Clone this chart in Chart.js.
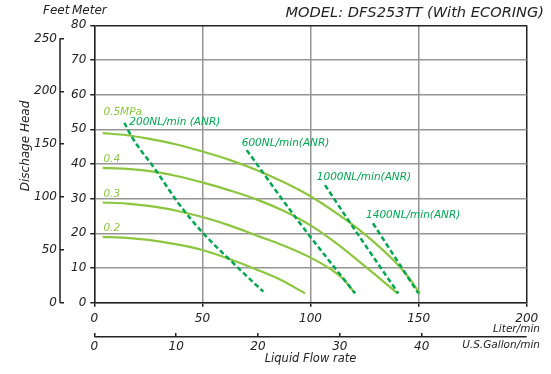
<!DOCTYPE html>
<html lang="en">
<head>
<meta charset="utf-8" />
<title>DFS253TT Performance Curve</title>
<script src="https://cdn.jsdelivr.net/npm/chart.js@4.4.1/dist/chart.umd.min.js"></script>
<style>
    html, body { margin: 0; padding: 0; background: #fff; }
</style>
</head>
<body>
<canvas id="pumpChart" width="551" height="374"></canvas>
<script>
    // Discharge head (m) vs liquid flow (L/min) at each air pressure
    const flow05 = [3.9, 15, 25, 37.5, 50, 62.5, 75, 87.5, 100, 112.5, 125, 137.5, 145, 150.6];
    const head05 = [48.9, 48.3, 47.3, 45.7, 43.6, 41.2, 38.3, 34.8, 30.7, 25.6, 19.8, 12.8, 7.6, 2.7];
    const flow04 = [3.9, 15, 25, 37.5, 50, 62.5, 75, 87.5, 100, 112.5, 125, 140.2];
    const head04 = [38.9, 38.6, 38.0, 36.6, 34.7, 32.4, 29.8, 26.5, 22.3, 16.9, 10.6, 2.7];
    const flow03 = [3.9, 15, 25, 37.5, 50, 62.5, 75, 87.5, 100, 110, 115, 120.6];
    const head03 = [28.9, 28.6, 27.9, 26.6, 24.7, 22.3, 19.4, 16.5, 13.0, 9.4, 6.9, 2.7];
    const flow02 = [3.9, 15, 25, 37.5, 50, 62.5, 75, 85.9, 97.5];
    const head02 = [19.0, 18.7, 18.1, 16.9, 15.2, 12.6, 9.6, 6.7, 2.7];

    // Air consumption lines
    const flowA200 = [13.9, 17.3, 28.9, 38.9, 50.4, 62.8, 76.6, 78.2];
    const headA200 = [51.9, 47.9, 37.8, 28.7, 20.0, 12.3, 4.1, 3.2];
    const flowA600 = [70.5, 94.4, 120.6];
    const headA600 = [44.0, 23.5, 2.7];
    const flowA1000 = [106.7, 121.4, 140.6];
    const headA1000 = [33.9, 20.2, 2.7];
    const flowA1400 = [128.9, 139.9, 149.9];
    const headA1400 = [22.9, 12.3, 2.7];

    const pressureLabels = ['0.5MPa', '0.4', '0.3', '0.2'];
    const airLabels = ['200NL/min (ANR)', '600NL/min(ANR)', '1000NL/min(ANR)', '1400NL/min(ANR)'];

    const literTicks = [0, 50, 100, 150, 200];
    const gallonTicks = [0, 10, 20, 30, 40];
    const meterTicks = [0, 10, 20, 30, 40, 50, 60, 70, 80];
    const feetTicks = [0, 50, 100, 150, 200, 250];

    const FT_PER_M = 3.28084;
    const L_PER_GAL = 3.78541;
    const INK = '#222';
    const GRID = '#959595';
    const CURVE = '#8cc63f';
    const AIR = '#00a651';
    const FONT = '"DejaVu Sans", sans-serif';

    const pts = (xs, ys) => xs.map((x, i) => ({ x: x, y: ys[i] }));
    const fixTicks = list => scale => { scale.ticks = list.map(v => ({ value: v })); };

    function airSet(xs, ys) {
        return {
            data: pts(xs, ys),
            borderColor: AIR,
            borderWidth: 2.5,
            borderDash: [5, 3],
            pointRadius: 0,
            cubicInterpolationMode: 'monotone'
        };
    }

    function curveSet(xs, ys) {
        return {
            data: pts(xs, ys),
            borderColor: CURVE,
            borderWidth: 2.2,
            pointRadius: 0,
            cubicInterpolationMode: 'monotone'
        };
    }

    // extra axis spines and free text
    const annotate = {
        id: 'annotate',
        afterDraw(chart) {
            const { ctx, chartArea, scales } = chart;
            const x = scales.x, y = scales.y, ft = scales.yFeet, gal = scales.xGal;

            ctx.save();
            ctx.strokeStyle = INK;
            ctx.lineWidth = 1.5;
            ctx.beginPath();
            const fx = ft.right - 4;
            ctx.moveTo(fx, ft.getPixelForValue(feetTicks[feetTicks.length - 1]));
            ctx.lineTo(fx, ft.getPixelForValue(0));
            const gy = gal.top + 4;
            ctx.moveTo(chartArea.left, gy);
            ctx.lineTo(chartArea.right, gy);
            ctx.stroke();

            function text(str, px, py, size, color, align) {
                ctx.font = 'italic ' + size + 'px ' + FONT;
                ctx.fillStyle = color;
                ctx.textAlign = align || 'left';
                ctx.textBaseline = 'middle';
                ctx.fillText(str, px, py);
            }

            text('Feet', 43, 11, 12, INK);
            text('Meter', 72, 11, 12, INK);
            text('MODEL: DFS253TT (With ECORING)', 544, 13, 14.6, INK, 'right');
            text('Liter/min', 540, 329, 10.5, INK, 'right');
            text('U.S.Gallon/min', 540, 345.5, 10.5, INK, 'right');

            ctx.save();
            ctx.translate(25.5, 146);
            ctx.rotate(-Math.PI / 2);
            text('Dischage Head', 0, 0, 12, INK, 'center');
            ctx.restore();

            // pressure labels above each curve start
            const pHeads = [54.8, 41.4, 31.4, 21.5];
            pressureLabels.forEach((s, i) => {
                text(s, x.getPixelForValue(4.2), y.getPixelForValue(pHeads[i]), 10.5, CURVE);
            });

            // air consumption labels at the top of each dashed line
            const aPos = [[16.2, 51.9], [68.2, 46.1], [102.9, 36.3], [125.7, 25.2]];
            airLabels.forEach((s, i) => {
                text(s, x.getPixelForValue(aPos[i][0]), y.getPixelForValue(aPos[i][1]), 10.5, AIR);
            });
            ctx.restore();
        }
    };

    const tickFont = { family: FONT, size: 12, style: 'italic' };

    new Chart(document.getElementById('pumpChart'), {
        type: 'line',
        data: {
            datasets: [
                airSet(flowA200, headA200),
                airSet(flowA600, headA600),
                airSet(flowA1000, headA1000),
                airSet(flowA1400, headA1400),
                curveSet(flow05, head05),
                curveSet(flow04, head04),
                curveSet(flow03, head03),
                curveSet(flow02, head02)
            ]
        },
        options: {
            responsive: false,
            animation: false,
            layout: { padding: { top: 25.3, right: 24.3, bottom: 0, left: 0 } },
            plugins: {
                legend: { display: false },
                tooltip: { enabled: false }
            },
            scales: {
                x: {
                    type: 'linear',
                    position: 'bottom',
                    weight: 0,
                    min: 0,
                    max: 200,
                    afterBuildTicks: fixTicks(literTicks),
                    afterFit: s => { s.height = 30; },
                    ticks: { font: tickFont, color: INK, padding: 5, maxRotation: 0, autoSkip: false },
                    grid: {
                        color: c => (c.tick && c.tick.value === 200 ? INK : GRID),
                        lineWidth: 1.5,
                        tickLength: 4,
                        tickColor: INK
                    },
                    border: { color: INK, width: 1.5 }
                },
                xGal: {
                    type: 'linear',
                    axis: 'x',
                    position: 'bottom',
                    weight: 1,
                    min: 0,
                    max: 200 / L_PER_GAL,
                    afterBuildTicks: fixTicks(gallonTicks),
                    afterFit: s => { s.height = 41.3; },
                    ticks: { font: tickFont, color: INK, padding: 3, maxRotation: 0, autoSkip: false },
                    grid: { drawOnChartArea: false, tickLength: 4, tickColor: INK, lineWidth: 1.5 },
                    border: { display: false },
                    title: {
                        display: true,
                        text: 'Liquid Flow rate',
                        color: INK,
                        font: { family: FONT, size: 11.5, style: 'italic' },
                        padding: { top: 0, bottom: 8.5 }
                    }
                },
                y: {
                    type: 'linear',
                    position: 'left',
                    weight: 0,
                    min: 0,
                    max: 80,
                    afterBuildTicks: fixTicks(meterTicks),
                    afterFit: s => { s.width = 30.3; },
                    ticks: { font: tickFont, color: INK, padding: 4 },
                    grid: {
                        color: c => (c.tick && c.tick.value === 80 ? INK : GRID),
                        lineWidth: 1.5,
                        tickLength: 4,
                        tickColor: INK
                    },
                    border: { color: INK, width: 1.5 }
                },
                yFeet: {
                    type: 'linear',
                    axis: 'y',
                    position: 'left',
                    weight: 1,
                    min: 0,
                    max: 80 * FT_PER_M,
                    afterBuildTicks: fixTicks(feetTicks),
                    afterFit: s => { s.width = 64; },
                    ticks: { font: tickFont, color: INK, padding: 3 },
                    grid: { drawOnChartArea: false, tickLength: 4, tickColor: INK, lineWidth: 1.5 },
                    border: { display: false }
                }
            }
        },
        plugins: [annotate]
    });
</script>
</body>
</html>
